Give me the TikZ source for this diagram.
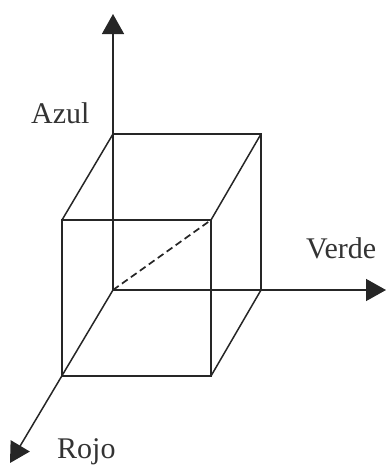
\documentclass[tikz,border=0pt]{standalone}
\usepackage{fontspec}
\setmainfont{Liberation Serif}
\usetikzlibrary{arrows.meta}
\begin{document}
\begin{tikzpicture}[x=1pt,y=-1pt,
  edge/.style={line width=1.5pt, draw=black!85},
  axis/.style={edge, -{Triangle[length=20pt,width=22pt]}},
  lbl/.style={font=\fontsize{30}{31}\selectfont, text=black!80, inner sep=0pt, anchor=base west}]
\useasboundingbox (0,0) rectangle (386,466);
% corners
\coordinate (O) at (113,290);
\coordinate (B) at (261,290);
\coordinate (C) at (261,134);
\coordinate (A) at (113,134);
\coordinate (Of) at (62,376);
\coordinate (Bf) at (211,376);
\coordinate (Cf) at (211,220);
\coordinate (Af) at (62,220);
\coordinate (zt) at (113,14);
\coordinate (yt) at (386,290);
\coordinate (xt) at (10,463);
% axes
\draw[axis] (O) -- (zt);
\draw[axis] (O) -- (yt);
\draw[axis] (O) -- (xt);
% cube
\draw[edge] (A) -- (C) -- (B);
\draw[edge] (Af) -- (Cf) -- (Bf) -- (Of) -- cycle;
\draw[edge] (A) -- (Af);
\draw[edge] (C) -- (Cf);
\draw[edge] (B) -- (Bf);
\draw[edge, line width=1.7pt, dash pattern=on 7pt off 4pt] (O) -- (Cf);
% labels
\node[lbl] (azul) at (31,123) {Azul};
\node[lbl] (verde) at (306,258) {Verde};
\node[lbl] (rojo) at (57,458) {Rojo};
\end{tikzpicture}
\end{document}
